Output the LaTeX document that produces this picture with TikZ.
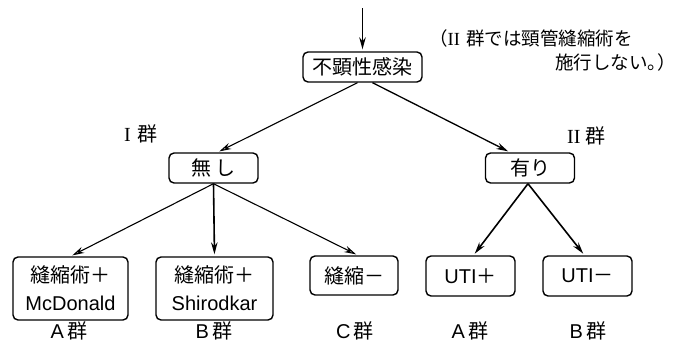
\documentclass[tikz,border=0pt]{standalone}
\usepackage{fontspec}
\setmainfont{Liberation Sans}
\newfontfamily\jp{Noto Sans CJK JP}
\newfontfamily\rmser{Liberation Serif}
\usetikzlibrary{arrows.meta,calc}
\begin{document}
\begin{tikzpicture}[x=1pt,y=-1pt,
  box/.style={draw, line width=1.4pt, rounded corners=5pt, inner sep=0pt, align=center, font=\fontsize{20}{28}\selectfont},
  lbl/.style={font=\fontsize{20}{24}\selectfont, inner sep=0pt},
  note/.style={font=\fontsize{18.5}{22}\selectfont\jp, inner sep=0pt},
  arr/.style={line width=1.1pt, shorten >=2pt, -{Stealth[length=12pt,width=6.5pt,fill=gray!45]}},
  arrb/.style={arr, line width=1.6pt},
]
\useasboundingbox (0,0) rectangle (678,348);
% boxes
\node[box, minimum width=119pt, minimum height=30pt] (top) at (362.5,67) {\jp 不顕性感染};
\node[box, minimum width=89pt, minimum height=30pt] (nashi) at (213.5,168) {\jp 無\,し};
\node[box, minimum width=89pt, minimum height=30pt] (ari) at (530,168) {\jp 有り};
\node[box, minimum width=115pt, minimum height=63pt] (a) at (70.5,288.5) {{\jp 縫縮術＋}\\McDonald};
\node[box, minimum width=117pt, minimum height=63pt] (b) at (214.5,288.5) {{\jp 縫縮術＋}\\Shirodkar};
\node[box, minimum width=88pt, minimum height=39pt] (c) at (354,275.5) {\jp 縫縮－};
\node[box, minimum width=89pt, minimum height=40pt] (up) at (470.5,276) {UTI{\jp ＋}};
\node[box, minimum width=89pt, minimum height=40pt] (um) at (587.5,276) {UTI{\jp －}};
% labels
\node[lbl, anchor=west] (g1) at (124,134) {{\rmser I}\hspace{7pt}{\jp 群}};
\node[lbl, anchor=west] (g2) at (567,136) {{\rmser II}\hspace{5pt}{\jp 群}};
\node[lbl] (la) at (69,331) {A\,{\jp 群}};
\node[lbl] (lb) at (214,331) {B\,{\jp 群}};
\node[lbl] (lc) at (355,331) {C\,{\jp 群}};
\node[lbl] (lua) at (470,331) {A\,{\jp 群}};
\node[lbl] (lub) at (588,331) {B\,{\jp 群}};
\node[note, anchor=west] (n1) at (429,38) {（{\rmser II}\hspace{6pt}群では頸管縫縮術を};
\node[note, anchor=west] (n2) at (555,62) {施行しない。\kern-0.45em）};
% arrows
\coordinate (in) at (362.5,8);
\draw[arrb] (in) -- (top.north);
\draw[arr] ($(top.south)+(-5,0)$) -- ($(nashi.north)+(4,0)$);
\draw[arr, line width=1.3pt] ($(top.south)+(10,0)$) -- ($(ari.north)+(-20,0)$);
\draw[arr] (nashi.south) -- (a.north);
\draw[arrb] (nashi.south) -- (b.north);
\draw[arr] (nashi.south) -- ($(c.north)+(4,0)$);
\draw[arrb] ($(ari.south)+(-2,0)$) -- ($(up.north)+(3,0)$);
\draw[arrb] ($(ari.south)+(-2,0)$) -- ($(um.north)+(-3,0)$);
\end{tikzpicture}
\end{document}
